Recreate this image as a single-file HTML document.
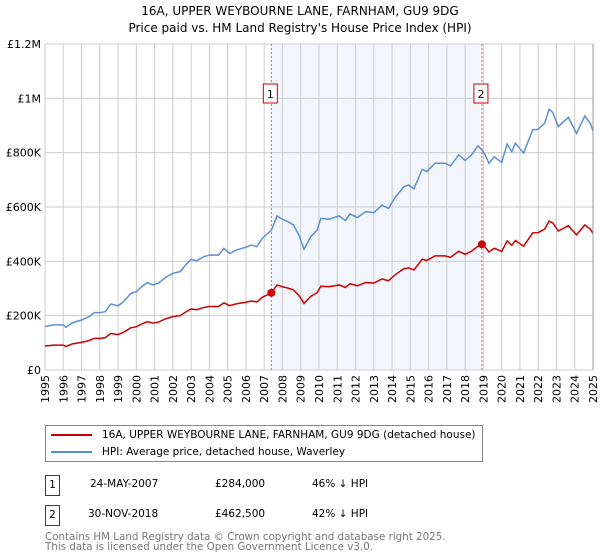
<!DOCTYPE html>
<html><head><meta charset="utf-8"><style>
body{margin:0;background:#fff;font-family:"DejaVu Sans","Liberation Sans",sans-serif;}
#wrap{position:relative;width:600px;height:560px;overflow:hidden;}
svg text{font-family:"DejaVu Sans","Liberation Sans",sans-serif;}
</style></head><body><div id="wrap">
<svg id="chart" width="600" height="560">
<text x="300" y="15" text-anchor="middle" font-size="12">16A, UPPER WEYBOURNE LANE, FARNHAM, GU9 9DG</text>
<text x="300" y="32" text-anchor="middle" font-size="12">Price paid vs. HM Land Registry's House Price Index (HPI)</text>
</svg>
<div style="position:absolute;left:45px;top:425px;width:436px;height:35px;border:1px solid #888;font-size:10.5px;">
<div style="position:absolute;left:5px;top:3px;white-space:nowrap"><span style="display:inline-block;width:41px;height:2px;background:#cc0000;vertical-align:middle;margin-right:10px"></span>16A, UPPER WEYBOURNE LANE, FARNHAM, GU9 9DG (detached house)</div>
<div style="position:absolute;left:5px;top:20px;white-space:nowrap"><span style="display:inline-block;width:41px;height:2px;background:#5b8fd4;vertical-align:middle;margin-right:10px"></span>HPI: Average price, detached house, Waverley</div>
</div>
<div style="position:absolute;left:45px;top:475px;font-size:10.5px;width:500px;height:21px">
<div style="position:absolute;left:0;top:0;width:13px;height:19px;border:1px solid #cc0000;text-align:center;line-height:19px">1</div>
<div style="position:absolute;left:45px;top:3px">24-MAY-2007</div>
<div style="position:absolute;left:170px;top:3px">£284,000</div>
<div style="position:absolute;left:267px;top:3px">46% ↓ HPI</div></div>
<div style="position:absolute;left:45px;top:505px;font-size:10.5px;width:500px;height:21px">
<div style="position:absolute;left:0;top:0;width:13px;height:19px;border:1px solid #cc0000;text-align:center;line-height:19px">2</div>
<div style="position:absolute;left:43px;top:3px">30-NOV-2018</div>
<div style="position:absolute;left:170px;top:3px">£462,500</div>
<div style="position:absolute;left:267px;top:3px">42% ↓ HPI</div></div>
<div style="position:absolute;left:45px;top:532px;font-size:10.3px;color:#777;line-height:10px">Contains HM Land Registry data © Crown copyright and database right 2025.<br>This data is licensed under the Open Government Licence v3.0.</div>
</div>
<script>
const hpiYears=[1995,1995.5,1996,1996.15,1996.5,1997,1997.4,1997.7,1998,1998.3,1998.6,1999,1999.3,1999.7,2000,2000.3,2000.6,2000.9,2001.2,2001.6,2002,2002.4,2002.7,2003,2003.3,2003.7,2004,2004.5,2004.8,2005.1,2005.5,2006,2006.3,2006.6,2006.9,2007.3,2007.4,2007.7,2008,2008.3,2008.6,2008.9,2009.18,2009.55,2009.9,2010.1,2010.55,2011.1,2011.45,2011.7,2012.1,2012.55,2013,2013.45,2013.8,2014.2,2014.65,2014.9,2015.2,2015.65,2015.9,2016.35,2016.9,2017.2,2017.65,2018,2018.35,2018.7,2018.92,2019.1,2019.3,2019.6,2020,2020.3,2020.55,2020.75,2021.2,2021.7,2022,2022.35,2022.6,2022.8,2023.1,2023.65,2024.1,2024.55,2024.85,2025];
const hpiValues=[160,166,166,157,174,184,196,211,211,215,243,236,252,282,288,307,322,313,319,341,356,362,387,407,402,417,423,423,448,429,442,452,460,454,485,509,515,567,555,546,534,497,444,491,515,558,555,567,550,575,561,583,579,607,595,638,675,681,667,739,730,761,761,751,792,771,792,825,810,792,761,785,764,832,804,835,798,884,886,908,960,948,896,930,871,935,908,880];
const saleYears=[2007.39,2018.92];
const salePrices=[284,462.5];
const saleLabels=["1","2"];
const yTicks=[0,200,400,600,800,1000,1200];
const yTickLabels=["£0","£200K","£400K","£600K","£800K","£1M","£1.2M"];
const xTicks=[];for(let y=1995;y<=2025;y++)xTicks.push(y);
const X0=45,X1=593,Y0=370,Y1=44;
const sx=y=>X0+(y-1995)/30*(X1-X0);
const sy=v=>Y0-v/1200*(Y0-Y1);
const svg=document.getElementById('chart');const NS='http://www.w3.org/2000/svg';
function mk(t,a,p){const e=document.createElementNS(NS,t);for(const k in a)e.setAttribute(k,a[k]);(p||svg).appendChild(e);return e;}
function hpiAt(y){for(let i=1;i<hpiYears.length;i++){if(y<=hpiYears[i]){const t=(y-hpiYears[i-1])/(hpiYears[i]-hpiYears[i-1]);return hpiValues[i-1]+t*(hpiValues[i]-hpiValues[i-1]);}}return hpiValues[hpiValues.length-1];}
const shade=mk('rect',{x:sx(saleYears[0]),y:Y1,width:sx(saleYears[1])-sx(saleYears[0]),height:Y0-Y1,fill:'#f3f6fd'});


xTicks.forEach(y=>{const l=mk('line',{x1:sx(y),x2:sx(y),y1:Y1,y2:Y0,stroke:'#ccc','stroke-width':1});


const t=mk('text',{x:0,y:0,'font-size':11,'text-anchor':'end',transform:`translate(${sx(y)+4},${Y0+5}) rotate(-90)`});t.textContent=y;

});
yTicks.forEach((v,i)=>{const l=mk('line',{x1:X0,x2:X1,y1:sy(v),y2:sy(v),stroke:'#ccc','stroke-width':1});


const t=mk('text',{x:X0-4,y:sy(v)+4,'font-size':11,'text-anchor':'end'});t.textContent=yTickLabels[i];

});
saleYears.forEach((y,i)=>{const l=mk('line',{x1:sx(y),x2:sx(y),y1:Y1,y2:Y0,stroke:'#e06060','stroke-width':1,'stroke-dasharray':'2,2'});


const r=mk('rect',{x:sx(y)-8,y:84,width:14,height:19,fill:'#fff',stroke:'#cc0000'});


const t=mk('text',{x:sx(y)-1,y:98,'font-size':11,'text-anchor':'middle'});t.textContent=saleLabels[i];

});
const hp=mk('polyline',{points:hpiYears.map((y,i)=>sx(y)+','+sy(hpiValues[i])).join(' '),fill:'none',stroke:'#5b8fd4','stroke-width':1.5});


const r0=salePrices[0]/hpiAt(saleYears[0]),r1=salePrices[1]/hpiAt(saleYears[1]);
const pp=mk('polyline',{points:hpiYears.map((y,i)=>sx(y)+','+sy(hpiValues[i]*(y<saleYears[1]?r0:r1))).join(' '),fill:'none',stroke:'#cc0000','stroke-width':1.5});


saleYears.forEach((y,i)=>{const c=mk('circle',{cx:sx(y),cy:sy(salePrices[i]),r:4,fill:'#cc0000'});

});
const ax=mk('line',{x1:X1,x2:X1,y1:Y1,y2:Y0,stroke:'#999','stroke-width':1});


</script></body></html>
